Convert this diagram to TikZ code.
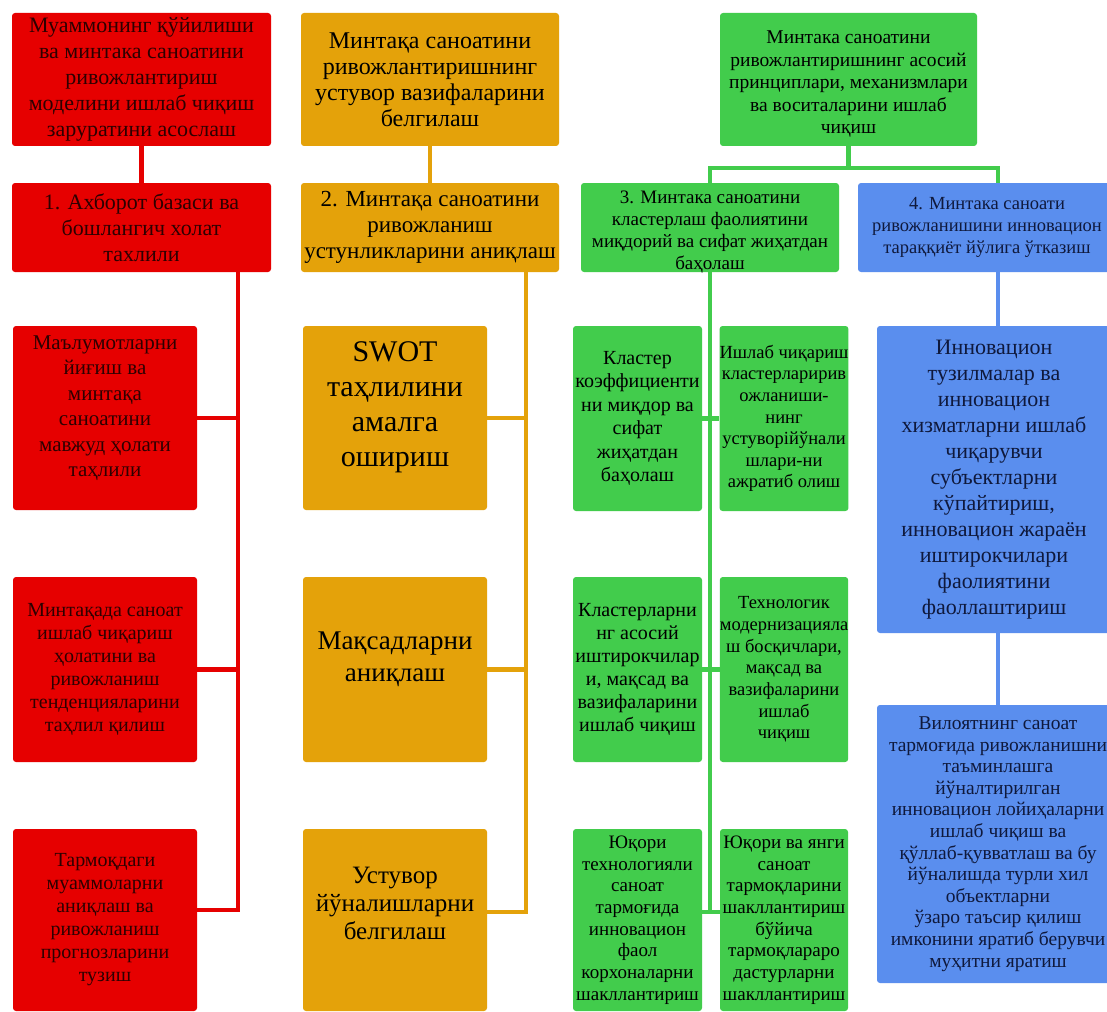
\documentclass[tikz,border=0pt]{standalone}
\usepackage{fontspec}
\setmainfont{Liberation Serif}
\definecolor{redfill}{RGB}{230,0,0}
\definecolor{goldfill}{RGB}{228,162,10}
\definecolor{greenfill}{RGB}{66,204,76}
\definecolor{bluefill}{RGB}{90,142,238}
\definecolor{redtext}{RGB}{45,0,0}
\definecolor{bluetext}{RGB}{15,25,60}
\tikzset{
  box/.style={rectangle, rounded corners=3pt, inner sep=0pt, align=center},
  rbox/.style={box, fill=redfill, text=redtext},
  obox/.style={box, fill=goldfill, text=black},
  gbox/.style={box, fill=greenfill, text=black},
  bbox/.style={box, fill=bluefill, text=bluetext},
  txt/.style={inner sep=0pt, align=center},
  sz/.style 2 args={font=\fontsize{#1}{#2}\selectfont},
  rline/.style={draw=redfill, line width=4.5pt},
  oline/.style={draw=goldfill, line width=4.5pt},
  gline/.style={draw=greenfill, line width=4.5pt},
  bline/.style={draw=bluefill, line width=4.5pt}
}
\begin{document}
\begin{tikzpicture}[x=1pt,y=-1pt]
\useasboundingbox (0,0) rectangle (1107,1011);
\fill[white] (0,0) rectangle (1107,1011);
% top row
\node[rbox, minimum width=259pt, minimum height=133pt, sz={22}{26}] (r0) at (141.5,79.5) {Муаммонинг қўйилиши\\ва минтака саноатини\\ривожлантириш\\моделини ишлаб чиқиш\\заруратини асослаш};
\node[obox, minimum width=258pt, minimum height=133pt, sz={24}{26}] (o0) at (430,79.5) {Минтақа саноатини\\ривожлантиришнинг\\устувор вазифаларини\\белгилаш};
\node[gbox, minimum width=257pt, minimum height=133pt] (g0) at (848.5,79.5) {};
\node[txt, sz={19.5}{22.5}] at ([yshift=-5pt]g0.center) {Минтака саноатини\\ривожлантиришнинг асосий\\принциплари, механизмлари\\ва воситаларини ишлаб\\чиқиш};
% second row
\node[rbox, minimum width=259pt, minimum height=89pt, sz={22}{26}] (r1) at (141.5,227.5) {1. Ахборот базаси ва\\бошлангич холат\\тахлили};
\node[obox, minimum width=258pt, minimum height=89pt, sz={23}{26}] (o1) at (430,227.5) {2. Минтақа саноатини\\ривожланиш\\устунликларини аниқлаш};
\node[gbox, minimum width=258pt, minimum height=89pt] (c3) at (710,227.5) {};
\node[txt, sz={19}{22}] at ([yshift=-5pt]c3.center) {3. Минтака саноатини\\кластерлаш фаолиятини\\миқдорий ва сифат жиҳатдан\\баҳолаш};
\node[bbox, minimum width=280pt, minimum height=89pt] (b4) at (998,227.5) {};
\node[txt, text=bluetext, sz={18.5}{22}] at ([xshift=-11pt]b4.center) {4. Минтака саноати\\ривожланишини инновацион\\тараққиёт йўлига ўтказиш};
% red column
\node[rbox, minimum width=184pt, minimum height=184pt] (r2) at (105,418) {};
\node[txt, text=redtext, sz={21}{25.5}] at ([yshift=10pt]r2.center) {Маълумотларни\\йиғиш ва\\минтақа\\саноатини\\мавжуд ҳолати\\таҳлили};
\node[rbox, minimum width=184pt, minimum height=185pt, sz={20}{23}] (r3) at (105,669.5) {Минтақада саноат\\ишлаб чиқариш\\ҳолатини ва\\ривожланиш\\тенденцияларини\\таҳлил қилиш};
\node[rbox, minimum width=184pt, minimum height=182pt, sz={20}{23}] (r4) at (105,920) {Тармоқдаги\\муаммоларни\\аниқлаш ва\\ривожланиш\\прогнозларини\\тузиш};
% gold column
\node[obox, minimum width=184pt, minimum height=184pt] (o2) at (395,418) {};
\node[txt, sz={30}{35}] at ([yshift=11pt]o2.center) {SWOT\\таҳлилини\\амалга\\ошириш};
\node[obox, minimum width=184pt, minimum height=185pt] (o3) at (395,669.5) {};
\node[txt, sz={27}{32}] at ([yshift=10pt]o3.center) {Мақсадларни\\аниқлаш};
\node[obox, minimum width=184pt, minimum height=182pt] (o4) at (395,920) {};
\node[txt, sz={25}{28}] at ([yshift=17pt]o4.center) {Устувор\\йўналишларни\\белгилаш};
% green column
\node[gbox, minimum width=129pt, minimum height=185pt, sz={20}{23.5}] (k1) at (637.5,418.5) {Кластер\\коэффициенти\\ни миқдор ва\\сифат\\жиҳатдан\\баҳолаш};
\node[gbox, minimum width=128pt, minimum height=185pt, sz={18.5}{21.6}] (k2) at (784,418.5) {Ишлаб чиқариш\\кластерларирив\\ожланиши-\\нинг\\устуворійўнали\\шлари-ни\\ажратиб олиш};
\node[gbox, minimum width=129pt, minimum height=185pt, sz={20}{23}] (k3) at (637.5,669.5) {Кластерларни\\нг асосий\\иштирокчилар\\и, мақсад ва\\вазифаларини\\ишлаб чиқиш};
\node[gbox, minimum width=128pt, minimum height=185pt, sz={18.5}{21.7}] (k4) at (784,669.5) {Технологик\\модернизацияла\\ш босқичлари,\\мақсад ва\\вазифаларини\\ишлаб\\чиқиш};
\node[gbox, minimum width=129pt, minimum height=182pt, sz={19}{21.7}] (k5) at (637.5,920) {Юқори\\технологияли\\саноат\\тармоғида\\инновацион\\фаол\\корхоналарни\\шакллантириш};
\node[gbox, minimum width=128pt, minimum height=182pt, sz={19}{21.7}] (k6) at (784,920) {Юқори ва янги\\саноат\\тармоқларини\\шакллантириш\\бўйича\\тармоқлараро\\дастурларни\\шакллантириш};
% blue column
\node[bbox, minimum width=242pt, minimum height=307pt] (b1) at (998,479.5) {};
\node[txt, text=bluetext, sz={22}{26}] at ([xshift=-4pt]b1.center) {Инновацион\\тузилмалар ва\\инновацион\\хизматларни ишлаб\\чиқарувчи\\субъектларни\\кўпайтириш,\\инновацион жараён\\иштирокчилари\\фаолиятини\\фаоллаштириш};
\node[bbox, minimum width=242pt, minimum height=278pt, sz={19.5}{21.6}] (b2) at (998,844) {Вилоятнинг саноат\\тармоғида ривожланишни\\таъминлашга\\йўналтирилган\\инновацион лойиҳаларни\\ишлаб чиқиш ва\\қўллаб-қувватлаш ва бу\\йўналишда турли хил\\объектларни\\ўзаро таъсир қилиш\\имконини яратиб берувчи\\муҳитни яратиш};
% connectors
\coordinate (rtrunk) at (238,272);
\coordinate (otrunk) at (526,272);
\coordinate (gbar) at (848.5,168);
\coordinate (kend) at (710,912);
\draw[rline] (r0) -- (r1);
\draw[rline] (rtrunk) |- ([yshift=10pt]r4.east);
\draw[rline] (r2.east) -- (r2.east -| rtrunk);
\draw[rline] (r3.east) -- (r3.east -| rtrunk);
\draw[oline] (o0) -- (o1);
\draw[oline] (otrunk) |- ([yshift=8pt]o4.east);
\draw[oline] (o2.east) -- (o2.east -| otrunk);
\draw[oline] (o3.east) -- (o3.east -| otrunk);
\draw[gline] (g0.south) -- (gbar);
\draw[gline] (c3.north) |- (gbar) -| (b4.north);
\draw[gline] (c3.south) -- (kend);
\draw[gline] (k1.east) -- (k2.west);
\draw[gline] (k3.east) -- (k4.west);
\draw[gline] ([yshift=8pt]k5.east) -- ([yshift=8pt]k6.west);
\draw[bline] (b4) -- (b1);
\draw[bline] (b1) -- (b2);
\end{tikzpicture}
\end{document}
